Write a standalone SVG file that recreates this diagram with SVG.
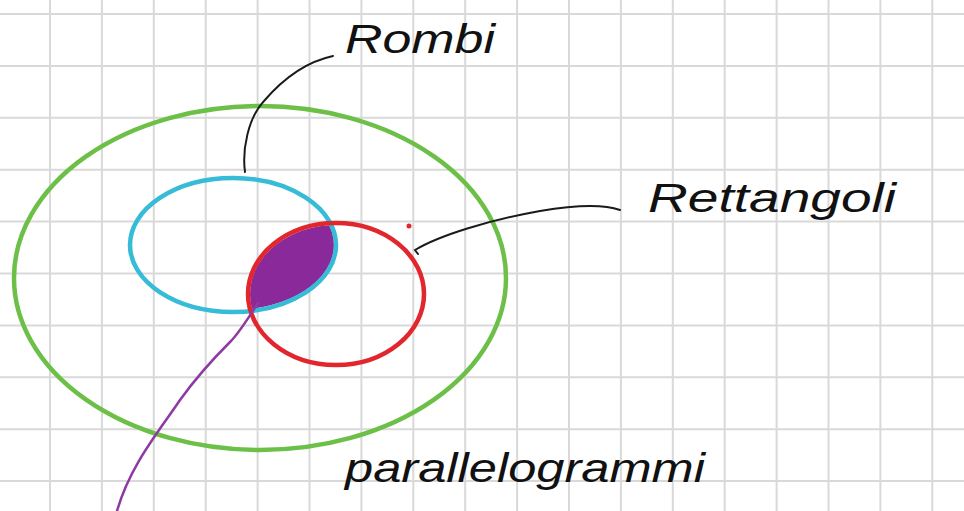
<svg xmlns="http://www.w3.org/2000/svg" width="964" height="511" viewBox="0 0 964 511">
<style>
.grid{stroke:#d9d9d9;stroke-width:2;fill:none}
.set{fill:none;stroke-width:4.5}
.ink{fill:none;stroke:#1a1a1a;stroke-width:2;stroke-linecap:round}
.lbl{font-family:"Liberation Sans","DejaVu Sans",sans-serif;font-size:40px;fill:#111;font-style:italic}
</style>
<defs>
<clipPath id="cyanClip"><ellipse cx="233" cy="245" rx="101" ry="65"/></clipPath>
</defs>
<rect width="964" height="511" fill="#ffffff"/>
<g id="grid" class="grid">
<path d="M50,0V511M101.9,0V511M153.8,0V511M205.7,0V511M257.6,0V511M309.5,0V511M361.4,0V511M413.3,0V511M465.2,0V511M517.1,0V511M569,0V511M620.9,0V511M672.8,0V511M724.7,0V511M776.6,0V511M828.5,0V511M880.4,0V511M932.3,0V511"/>
<path d="M0,14H964M0,65.9H964M0,117.8H964M0,169.7H964M0,221.6H964M0,273.5H964M0,325.4H964M0,377.3H964M0,429.2H964M0,481.1H964"/>
</g>
<g id="intersection">
<g clip-path="url(#cyanClip)">
<ellipse cx="336" cy="294" rx="86" ry="69" fill="#8a2a9a"/>
</g>
</g>
<g id="parallelogrammi">
<ellipse class="set" cx="260" cy="278" rx="246" ry="172" stroke="#6cbf47"/>
<text class="lbl" x="345" y="482" textLength="360" lengthAdjust="spacingAndGlyphs">parallelogrammi</text>
</g>
<g id="rombi">
<ellipse class="set" cx="233" cy="245" rx="103" ry="67" stroke="#36bcd6"/>
<text class="lbl" x="345" y="53" textLength="150" lengthAdjust="spacingAndGlyphs">Rombi</text>
</g>
<g id="rettangoli">
<ellipse class="set" cx="336" cy="294" rx="88" ry="71" stroke="#e1272d"/>
<text class="lbl" x="648" y="212" textLength="248" lengthAdjust="spacingAndGlyphs">Rettangoli</text>
</g>
<circle cx="409" cy="226" r="2.5" fill="#e1272d"/>
<g id="connectors">
<path class="ink" d="M245,172 C242,150 248,118 264,101 C282,80 305,62 333,56"/>
<path class="ink" d="M418,254 L415,250 C440,235 490,220 540,211 C570,206 600,203 620,210"/>
<path d="M258,303 C248,318 240,332 230,342 C212,360 198,375 180,400 C160,430 130,465 117,511" fill="none" stroke="#8e3aa3" stroke-width="2.5" stroke-linecap="round"/>
</g>
</svg>
